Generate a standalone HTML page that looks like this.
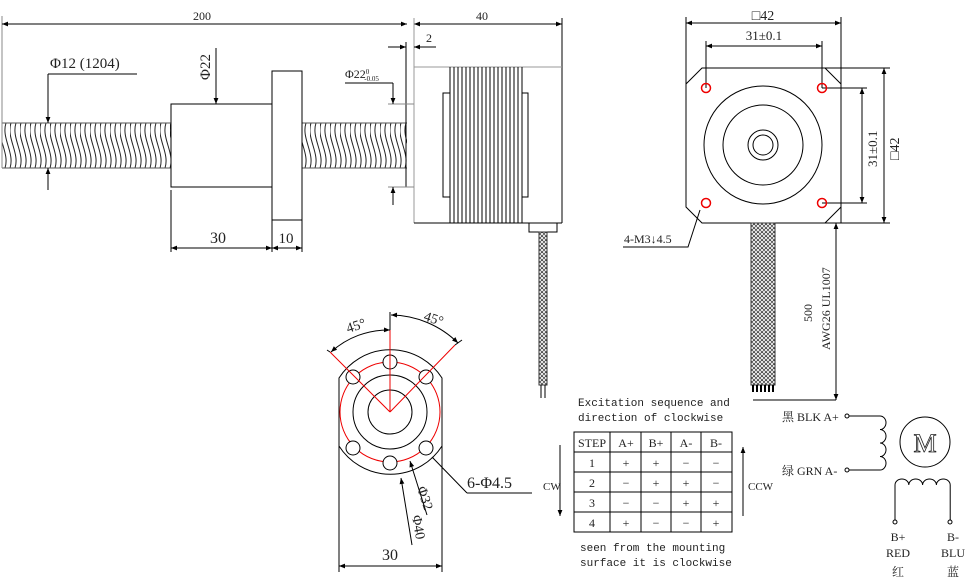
<!DOCTYPE html>
<html><head><meta charset="utf-8"><style>
html,body{margin:0;padding:0;background:#fff;}
svg{display:block;}
text{font-family:"Liberation Serif","Noto Serif CJK SC",serif;fill:#222;}
.m{font-family:"Liberation Mono","Noto Sans CJK SC",monospace;}
</style></head><body>
<svg width="966" height="580" viewBox="0 0 966 580" xmlns="http://www.w3.org/2000/svg">
<defs>
<marker id="a" viewBox="0 0 10 10" refX="10" refY="5" markerWidth="8" markerHeight="6" orient="auto-start-reverse" markerUnits="userSpaceOnUse"><path d="M0,1 L10,5 L0,9z" fill="#000"/></marker>
<pattern id="thr" x="0" y="123" width="10" height="45" patternUnits="userSpaceOnUse">
<path d="M1,0 C-4,15 10,30 5,45 M6,0 C1,15 15,30 10,45 M-4,0 C-9,15 5,30 0,45" fill="none" stroke="#222" stroke-width="1"/>
</pattern>
<pattern id="br" width="4" height="4" patternUnits="userSpaceOnUse">
<rect width="4" height="4" fill="#fff"/><path d="M0,2 L2,0 L4,2 L2,4z" fill="none" stroke="#444" stroke-width="0.8"/>
</pattern>
</defs>
<g stroke="#000" stroke-width="1" fill="none">
<rect x="2" y="123" width="169" height="45" fill="url(#thr)" stroke="none"/>
<rect x="302" y="123" width="105" height="45" fill="url(#thr)" stroke="none"/>
<line x1="2" y1="123" x2="171" y2="123" stroke="#555"/><line x1="2" y1="168" x2="171" y2="168" stroke="#555"/>
<line x1="302" y1="123" x2="407" y2="123" stroke="#555"/><line x1="302" y1="168" x2="407" y2="168" stroke="#555"/>
<line x1="2" y1="16" x2="2" y2="168" stroke="#888"/>
<rect x="171" y="104" width="101" height="83" fill="#fff"/>
<rect x="272" y="71" width="30" height="149" fill="#fff"/>
<line x1="2" y1="24" x2="407" y2="24" marker-start="url(#a)" marker-end="url(#a)"/>
<line x1="414" y1="24" x2="562" y2="24" marker-start="url(#a)" marker-end="url(#a)"/>
<line x1="414" y1="18" x2="414" y2="223" stroke="#999"/>
<line x1="562" y1="18" x2="562" y2="223"/>
<line x1="406" y1="42" x2="406" y2="187"/>
<line x1="388" y1="47" x2="406" y2="47" marker-end="url(#a)"/>
<line x1="436" y1="47" x2="414" y2="47" marker-end="url(#a)"/>
<line x1="388" y1="104" x2="414" y2="104" stroke="#888"/><line x1="388" y1="187" x2="414" y2="187" stroke="#888"/>
<line x1="345" y1="83" x2="393" y2="83"/>
<line x1="393" y1="83" x2="393" y2="104" marker-end="url(#a)"/>
<line x1="393" y1="205" x2="393" y2="187" marker-end="url(#a)"/>
<line x1="216" y1="48" x2="216" y2="104" marker-end="url(#a)"/>
<line x1="48" y1="74" x2="137" y2="74"/>
<line x1="48" y1="74" x2="48" y2="123" marker-end="url(#a)"/>
<line x1="48" y1="190" x2="48" y2="168" marker-end="url(#a)"/>
<line x1="171" y1="190" x2="171" y2="252"/><line x1="272" y1="220" x2="272" y2="252"/><line x1="302" y1="220" x2="302" y2="252"/>
<line x1="171" y1="248" x2="272" y2="248" marker-start="url(#a)" marker-end="url(#a)"/>
<line x1="272" y1="248" x2="302" y2="248" marker-start="url(#a)" marker-end="url(#a)"/>
<line x1="414" y1="67" x2="562" y2="67" stroke="#999"/>
<line x1="414" y1="223" x2="562" y2="223"/>
<rect x="443" y="93" width="7" height="104"/><rect x="522" y="93" width="6" height="104"/>
<path d="M450,67V223 M454,67V223 M458,67V223 M462,67V223 M466,67V223 M470,67V223 M474,67V223 M478,67V223 M482,67V223 M486,67V223 M490,67V223 M494,67V223 M498,67V223 M502,67V223 M506,67V223 M510,67V223 M514,67V223 M518,67V223 M522,67V223"/>
<rect x="529" y="223" width="28" height="9"/>
<rect x="539" y="232" width="8" height="153" fill="url(#br)" stroke="#333"/>
<path d="M541,385V398 M545,385V398"/>
<path d="M702,68 H825 L841,84 V207 L825,223 H702 L686,207 V84z"/>
<line x1="686" y1="17" x2="686" y2="84"/><line x1="841" y1="17" x2="841" y2="223"/>
<line x1="686" y1="23" x2="841" y2="23" marker-start="url(#a)" marker-end="url(#a)"/>
<line x1="706" y1="41" x2="706" y2="88"/><line x1="822" y1="41" x2="822" y2="88"/>
<line x1="706" y1="46" x2="822" y2="46" marker-start="url(#a)" marker-end="url(#a)"/>
<line x1="822" y1="88" x2="867" y2="88"/><line x1="822" y1="203" x2="867" y2="203"/>
<line x1="862" y1="88" x2="862" y2="203" marker-start="url(#a)" marker-end="url(#a)"/>
<line x1="825" y1="68" x2="890" y2="68"/><line x1="825" y1="223" x2="890" y2="223"/>
<line x1="884" y1="68" x2="884" y2="223" marker-start="url(#a)" marker-end="url(#a)"/>
<circle cx="763" cy="145" r="59"/><circle cx="763" cy="145" r="40"/><circle cx="763" cy="145" r="15"/><circle cx="763" cy="145" r="10"/>
<g stroke="#e00" stroke-width="1.5"><circle cx="706" cy="88" r="4.5"/><circle cx="822" cy="88" r="4.5"/><circle cx="706" cy="203" r="4.5"/><circle cx="822" cy="203" r="4.5"/></g>
<path d="M623,247 H688 L700,210"/>
<rect x="751" y="223" width="24" height="162" fill="url(#br)" stroke="#333"/>
<path d="M753,385V392 M757,385V392 M761,385V392 M765,385V392 M769,385V392 M773,385V392" stroke-width="2"/>
<line x1="836" y1="223" x2="836" y2="400" marker-start="url(#a)" marker-end="url(#a)"/>
<line x1="753" y1="400" x2="836" y2="400"/>
<path d="M339,378 A61,61 0 0 1 442,378 V446 A61,61 0 0 1 339,446 Z"/>
<circle cx="390" cy="412" r="37"/><circle cx="390" cy="412" r="22"/>
<circle cx="390" cy="412" r="50" stroke="#e00"/>
<g fill="#fff"><circle cx="390" cy="362" r="7"/><circle cx="353" cy="377" r="7"/><circle cx="426" cy="377" r="7"/><circle cx="353" cy="448" r="7"/><circle cx="426" cy="448" r="7"/><circle cx="390" cy="463" r="7"/></g>
<g stroke="#e00"><line x1="390" y1="412" x2="390" y2="330"/><line x1="390" y1="412" x2="330" y2="352"/><line x1="390" y1="412" x2="455" y2="345"/></g>
<line x1="390" y1="312" x2="390" y2="330"/><line x1="455" y1="345" x2="462" y2="340"/><line x1="330" y1="352" x2="327" y2="350"/>
<path d="M331,352 A85,85 0 0 1 390,330" marker-start="url(#a)" marker-end="url(#a)"/>
<path d="M391,315 A97,97 0 0 1 458,343" marker-start="url(#a)" marker-end="url(#a)"/>
<line x1="339" y1="446" x2="339" y2="572"/><line x1="442" y1="446" x2="442" y2="572"/>
<line x1="339" y1="566" x2="442" y2="566" marker-start="url(#a)" marker-end="url(#a)"/>
<path d="M467,493 H532 M467,493 L432,457"/>
<line x1="427" y1="515" x2="410" y2="461" marker-end="url(#a)"/>
<line x1="412" y1="545" x2="401" y2="478" marker-end="url(#a)"/>
<rect x="574" y="432" width="158" height="100"/>
<path d="M610,432V532 M641,432V532 M671,432V532 M701,432V532 M574,452H732 M574,472H732 M574,492H732 M574,512H732"/>
<line x1="560" y1="445" x2="560" y2="516" marker-end="url(#a)"/>
<line x1="743" y1="516" x2="743" y2="447" marker-end="url(#a)"/>
<circle cx="847" cy="416" r="2"/><circle cx="847" cy="470" r="2"/>
<path d="M849,416 H880 a6,6.75 0 0 1 0,13.5 a6,6.75 0 0 1 0,13.5 a6,6.75 0 0 1 0,13.5 a6,6.75 0 0 1 0,13.5 H849"/>
<circle cx="925" cy="442" r="25"/>
<path d="M895,520 V485 a6.9,6 0 0 1 13.8,0 a6.9,6 0 0 1 13.8,0 a6.9,6 0 0 1 13.8,0 a6.9,6 0 0 1 13.8,0 V520"/>
<circle cx="895" cy="522" r="2"/><circle cx="950" cy="522" r="2"/>
</g>
<g font-size="13">
<text x="202" y="20" text-anchor="middle" font-size="12">200</text>
<text x="482" y="20" text-anchor="middle" font-size="12">40</text>
<text x="426" y="42" font-size="12">2</text>
<text x="50" y="68" font-size="15">Φ12 (1204)</text>
<text x="345" y="78" font-size="12">Φ22<tspan font-size="7" dy="-4">0</tspan><tspan font-size="7" dx="-5" dy="7">-0.05</tspan></text>
<text transform="translate(210,80) rotate(-90)" font-size="15">Φ22</text>
<text x="218" y="243" text-anchor="middle" font-size="16">30</text>
<text x="286" y="243" text-anchor="middle" font-size="15">10</text>
<text x="763" y="20" text-anchor="middle" font-size="14">□42</text>
<text x="764" y="40" text-anchor="middle" font-size="13">31±0.1</text>
<text transform="translate(877,167) rotate(-90)" font-size="13">31±0.1</text>
<text transform="translate(899,160) rotate(-90)" font-size="14">□42</text>
<text x="624" y="243" font-size="12">4-M3↓4.5</text>
<text transform="translate(812,322) rotate(-90)" font-size="12">500</text>
<text transform="translate(830,350) rotate(-90)" font-size="12">AWG26 UL1007</text>
<text transform="translate(348,333) rotate(-18)" font-size="14">45°</text>
<text transform="translate(423,320) rotate(18)" font-size="14">45°</text>
<text x="467" y="488" font-size="16">6-Φ4.5</text>
<text transform="translate(417,488) rotate(72)" font-size="14">Φ32</text>
<text transform="translate(412,516) rotate(80)" font-size="14">Φ40</text>
<text x="390" y="560" text-anchor="middle" font-size="16">30</text>
<text class="m" x="578" y="406" font-size="11">Excitation sequence and</text>
<text class="m" x="578" y="421" font-size="11">direction of clockwise</text>
<text class="m" x="580" y="551" font-size="11">seen from the mounting</text>
<text class="m" x="580" y="566" font-size="11">surface it is clockwise</text>
<text x="543" y="490" font-size="11">CW</text>
<text x="748" y="490" font-size="11">CCW</text>
<g font-size="12" text-anchor="middle">
<text x="592" y="447">STEP</text><text x="626" y="447">A+</text><text x="656" y="447">B+</text><text x="686" y="447">A-</text><text x="716" y="447">B-</text>
<text x="592" y="467">1</text><text x="626" y="467">+</text><text x="656" y="467">+</text><text x="686" y="467">−</text><text x="716" y="467">−</text>
<text x="592" y="487">2</text><text x="626" y="487">−</text><text x="656" y="487">+</text><text x="686" y="487">+</text><text x="716" y="487">−</text>
<text x="592" y="507">3</text><text x="626" y="507">−</text><text x="656" y="507">−</text><text x="686" y="507">+</text><text x="716" y="507">+</text>
<text x="592" y="527">4</text><text x="626" y="527">+</text><text x="656" y="527">−</text><text x="686" y="527">−</text><text x="716" y="527">+</text>
</g>
<text x="782" y="421" font-size="12">黑 BLK A+</text>
<text x="782" y="475" font-size="12">绿 GRN A-</text>
<text x="925" y="452" text-anchor="middle" font-size="26" font-family="Liberation Sans,sans-serif" style="font-weight:100;fill:none;stroke:#222;stroke-width:0.8">M</text>
<g font-size="12" text-anchor="middle">
<text x="898" y="541">B+</text><text x="898" y="557">RED</text><text x="898" y="576">红</text>
<text x="953" y="541">B-</text><text x="953" y="557">BLU</text><text x="953" y="576">蓝</text>
</g>
</g>
</svg>
</body></html>
